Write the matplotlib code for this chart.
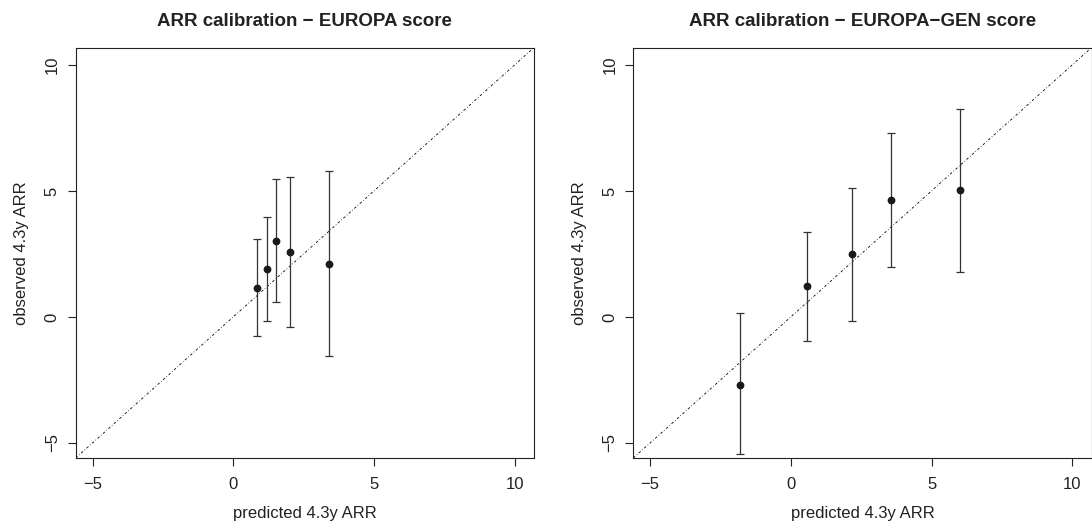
import matplotlib
matplotlib.use("Agg")
import matplotlib.pyplot as plt
import numpy as np

plt.rcParams['font.family'] = ['Liberation Sans', 'DejaVu Sans']

# Panel 1: EUROPA score
p1_pred = [0.83, 1.19, 1.53, 2.02, 3.41]
p1_obs = [1.16, 1.92, 3.02, 2.57, 2.10]
p1_low = [-0.75, -0.16, 0.59, -0.42, -1.56]
p1_high = [3.08, 3.96, 5.46, 5.57, 5.78]

# Panel 2: EUROPA-GEN score
p2_pred = [-1.80, 0.56, 2.19, 3.56, 6.03]
p2_obs = [-2.69, 1.22, 2.49, 4.64, 5.04]
p2_low = [-5.43, -0.97, -0.16, 1.98, 1.80]
p2_high = [0.15, 3.38, 5.11, 7.30, 8.25]

titles = ["ARR calibration \u2212 EUROPA score", "ARR calibration \u2212 EUROPA\u2212GEN score"]
xlabel = "predicted 4.3y ARR"
ylabel = "observed 4.3y ARR"
ticks = [-5, 0, 5, 10]
tick_labels = ["\u22125", "0", "5", "10"]

xlim = (-5.6, 10.69)
ylim = (-5.6, 10.66)

fig = plt.figure(figsize=(10.92, 5.28), dpi=100)
W, H = 1092, 528
positions = [
    [75.7 / W, (H - 458) / H, 458.3 / W, 409.7 / H],
    [633.3 / W, (H - 458) / H, 458.3 / W, 409.7 / H],
]
datasets = [
    (p1_pred, p1_obs, p1_low, p1_high),
    (p2_pred, p2_obs, p2_low, p2_high),
]

for pos, (xp, yo, lo, hi), title in zip(positions, datasets, titles):
    ax = fig.add_axes(pos)
    xp = np.array(xp); yo = np.array(yo); lo = np.array(lo); hi = np.array(hi)
    ax.plot([xlim[0], xlim[1]], [xlim[0], xlim[1]], color='black', lw=0.6,
            linestyle=(0, (3, 2.5, 0.8, 2.5)))
    ax.errorbar(xp, yo, yerr=[yo - lo, hi - yo], fmt='none', ecolor='#333333',
                elinewidth=0.9, capsize=3.0, capthick=0.9)
    ax.plot(xp, yo, 'o', color='#1a1a1a', markersize=4.6)
    ax.set_xlim(*xlim)
    ax.set_ylim(*ylim)
    ax.set_xticks(ticks)
    ax.set_xticklabels(tick_labels)
    ax.set_yticks(ticks)
    ax.set_yticklabels(tick_labels, rotation=90, va='center')
    ax.tick_params(axis='both', length=5.5, width=0.8, labelsize=12, colors='#222222')
    ax.tick_params(axis='x', pad=8)
    ax.tick_params(axis='y', pad=6)
    for s in ax.spines.values():
        s.set_linewidth(0.8)
        s.set_color('#222222')
    ax.set_xlabel(xlabel, fontsize=12, color='#222222', labelpad=10)
    ax.set_ylabel(ylabel, fontsize=12, color='#222222', labelpad=11)
    ax.set_title(title, fontsize=13.5, fontweight='bold', color='#222222', pad=16)

fig.savefig("out.png", dpi=100)
